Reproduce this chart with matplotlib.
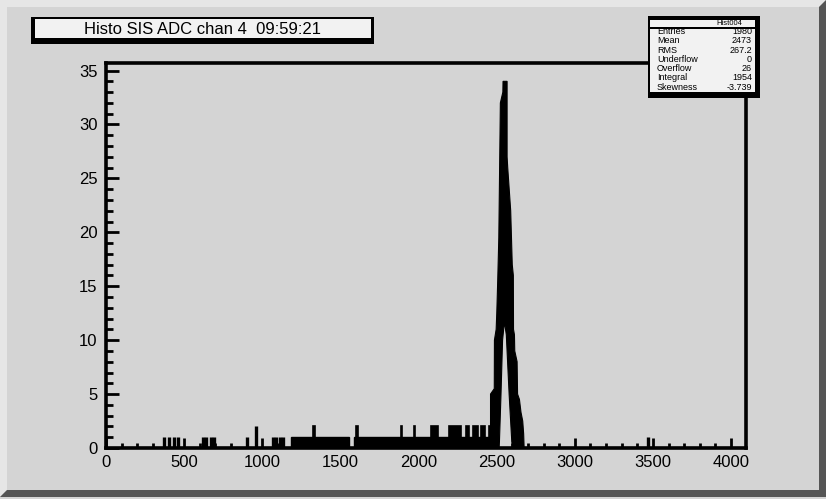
import numpy as np
import matplotlib.pyplot as plt
from matplotlib.patches import Rectangle, Polygon
from matplotlib.ticker import MultipleLocator

plt.rcParams['font.family'] = ['Liberation Sans', 'DejaVu Sans']

W, H = 826, 499
grey = '#d4d4d4'
paper = '#f2f2f2'

# isolated low-level hits below the dense region and past the peak
hit_adc = [373, 401, 433, 459, 620, 640, 672, 690, 904, 957, 1068, 1089, 1115, 1134, 3470]
hit_cnt = [1, 1, 1, 1, 1, 1, 1, 1, 1, 2, 1, 1, 1, 1, 1]

# stretches where almost every channel has one count
run_lo = [1186, 1586]
run_hi = [1552, 2461]

# stretches reaching two counts
two_lo = [1326, 1600, 1887, 1970, 2083, 2197, 2306, 2350, 2401, 2452]
two_hi = [1336, 1610, 1897, 1980, 2127, 2274, 2325, 2382, 2427, 2461]

# photopeak: upper envelope of the bins
peak_adc = [2461, 2461, 2485, 2486, 2497, 2501, 2507, 2514, 2520, 2524, 2540, 2541,
            2567, 2567, 2571, 2590, 2600, 2607, 2608, 2614, 2616, 2631, 2634, 2646,
            2656, 2667, 2673, 2676]
peak_max = [2, 5, 5.5, 10, 11, 12.5, 15.5, 19.5, 27, 32, 33, 34,
            34, 27, 26, 22, 17, 16, 11, 10.5, 9, 8, 5, 4.5,
            3.3, 2.5, 1.3, 0]
# lower envelope: channels in the core never drop to zero
gap_adc = [2461, 2516, 2518, 2528, 2538, 2550, 2562, 2580, 2597, 2603, 2676]
gap_min = [0, 0, 0.6, 5, 10, 11.7, 10.5, 5, 0.6, 0, 0]

x_major = np.arange(0, 4001, 500)
y_major = np.arange(0, 36, 5)

stat_names = ['Entries', 'Mean', 'RMS', 'Underflow', 'Overflow', 'Integral', 'Skewness']
stat_vals = ['1980', '2473', '267.2', '0', '26', '1954', '-3.739']


def fx(x):
    return x / W


def fy(y):
    return 1 - y / H


fig = plt.figure(figsize=(W / 100, H / 100), dpi=100, facecolor=grey)

# canvas bevel
fig.add_artist(Polygon([(fx(0), fy(0)), (fx(W), fy(0)), (fx(W - 7), fy(7)),
                        (fx(7), fy(7)), (fx(7), fy(H - 9)), (fx(0), fy(H - 2))],
                       closed=True, transform=fig.transFigure, fc='#e6e6e6', ec='none'))
fig.add_artist(Polygon([(fx(W), fy(0)), (fx(W), fy(H - 2)), (fx(0), fy(H - 2)),
                        (fx(7), fy(H - 9)), (fx(W - 7), fy(H - 9)), (fx(W - 7), fy(7))],
                       closed=True, transform=fig.transFigure, fc='#555555', ec='none'))

ax = fig.add_axes([fx(106), fy(448), fx(746 - 106), (448 - 63) / H])
ax.set_facecolor(grey)

ax.bar(run_lo, 1, width=np.subtract(run_hi, run_lo), align='edge', color='k',
       edgecolor='k', lw=1)
ax.bar(two_lo, 2, width=np.subtract(two_hi, two_lo), align='edge', color='k',
       edgecolor='k', lw=1.2)
ax.vlines(hit_adc, 0, hit_cnt, colors='k', lw=2.4)
ax.fill(peak_adc + gap_adc[::-1], peak_max + gap_min[::-1], facecolor='k',
        edgecolor='k', lw=0.8)
ax.hlines(0, 0, 4096, colors='k', lw=2.2)

ax.set_xlim(0, 4096)
ax.set_ylim(0, 35.7)
ax.set_xticks(x_major)
ax.set_yticks(y_major)
ax.xaxis.set_minor_locator(MultipleLocator(100))
ax.yaxis.set_minor_locator(MultipleLocator(1))
ax.tick_params(which='both', direction='in', width=2, labelsize=12, color='k')
ax.tick_params(axis='x', which='major', length=7.5, pad=5)
ax.tick_params(axis='x', which='minor', length=3.5)
ax.tick_params(axis='y', which='major', length=9, pad=6)
ax.tick_params(axis='y', which='minor', length=5)
for s in ax.spines.values():
    s.set_linewidth(2.6)

# title box
fig.add_artist(Rectangle((fx(31), fy(44)), fx(374 - 31), (44 - 17) / H,
                         transform=fig.transFigure, fc='k', ec='none'))
fig.add_artist(Rectangle((fx(35), fy(38)), fx(371 - 35), (38 - 19) / H,
                         transform=fig.transFigure, fc=paper, ec='none'))
fig.text(fx(203), fy(29), 'Histo SIS ADC chan 4  09:59:21', ha='center', va='center',
         fontsize=12)

# statistics box
fig.add_artist(Rectangle((fx(648), fy(98)), fx(760 - 648), (98 - 16) / H,
                         transform=fig.transFigure, fc='k', ec='none', zorder=5))
fig.add_artist(Rectangle((fx(650), fy(92)), fx(755 - 650), (92 - 29) / H,
                         transform=fig.transFigure, fc=paper, ec='none', zorder=6))
for i, (n, v) in enumerate(zip(stat_names, stat_vals)):
    y = 31.5 + i * 9.3
    fig.text(fx(657), fy(y), n, ha='left', va='center', fontsize=6.5, zorder=7,
             family=['Liberation Sans Narrow', 'Liberation Sans'])
    fig.text(fx(752), fy(y), v, ha='right', va='center', fontsize=6.5, zorder=7,
             family=['Liberation Sans Narrow', 'Liberation Sans'])
fig.add_artist(Rectangle((fx(650), fy(27)), fx(755 - 650), (27 - 20) / H,
                         transform=fig.transFigure, fc=paper, ec='none', zorder=8))
fig.text(fx(729), fy(23.5), 'Hist004', ha='center', va='center', fontsize=5.5,
         zorder=9, family=['Liberation Sans Narrow', 'Liberation Sans'])

fig.savefig('out.png', dpi=100, facecolor=grey)
